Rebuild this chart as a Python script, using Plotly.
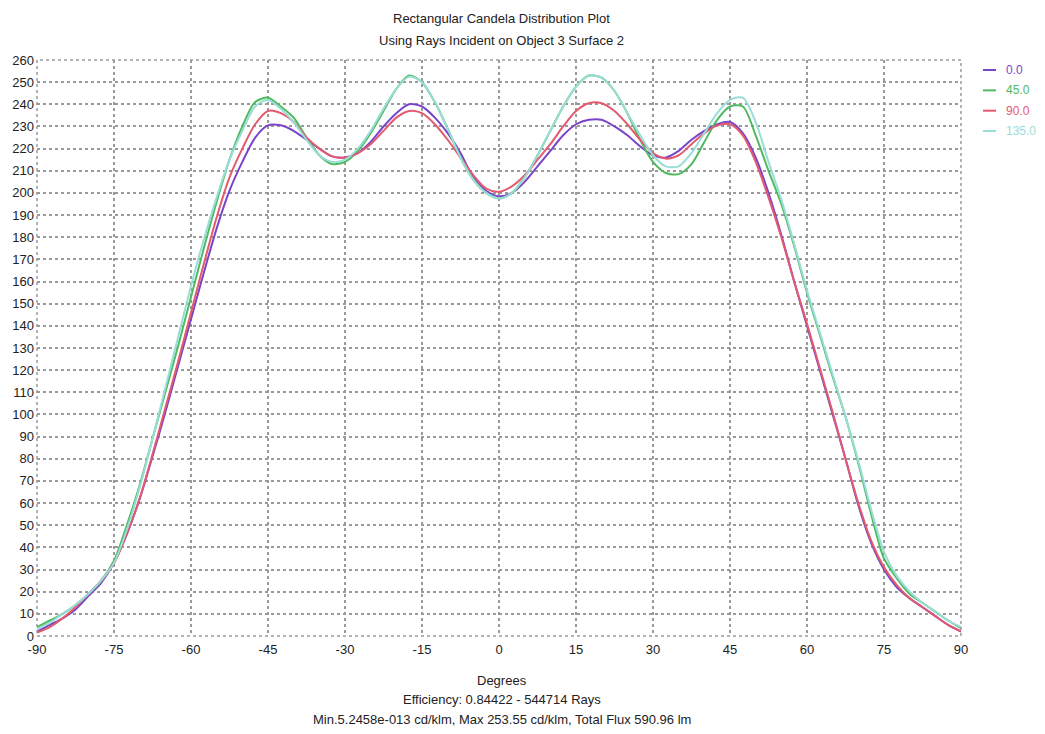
import plotly.graph_objects as go

degrees = [-90, -87.5, -85, -82.5, -80, -77.5, -75, -72.5, -70, -67.5, -65, -62.5,
           -60, -57.5, -55, -52.5, -50, -47.5, -45, -42.5, -40, -37.5, -35, -32.5,
           -30, -27.5, -25, -22.5, -20, -17.5, -15, -12.5, -10, -7.5, -5, -2.5,
           0, 2.5, 5, 7.5, 10, 12.5, 15, 17.5, 20, 22.5, 25, 27.5,
           30, 32.5, 35, 37.5, 40, 42.5, 45, 47.5, 50, 52.5, 55, 57.5,
           60, 62.5, 65, 67.5, 70, 72.5, 75, 77.5, 80, 82.5, 85, 87.5, 90]

cd_0 = [2, 5, 8, 12, 18, 24, 33, 46, 62, 81, 101, 122,
        143, 164, 184, 201, 214, 225, 230.5, 230.5, 228, 224, 220, 216.5,
        216, 218, 223, 230, 236, 240, 239, 234, 227, 218, 207, 201,
        198.5, 200, 205, 212, 219, 226, 231, 233, 233, 230, 226, 221,
        217, 216, 219, 224, 228, 231, 232, 227, 216, 200, 181, 160,
        140, 120, 100, 80, 59, 42, 30, 22, 17, 13, 9, 5, 2]

cd_45 = [4, 7, 10, 14, 19, 25, 34, 50, 68, 89, 110, 131,
         153, 175, 196, 215, 230, 241, 243, 239, 234, 225, 217, 213,
         214, 219, 227, 237, 247, 253, 250, 241, 229, 216, 206, 200,
         197.5, 200, 207, 217, 228, 239, 248, 253, 252, 246, 236, 224,
         214, 209, 208.5, 213, 223, 233, 239, 239, 226, 210, 195, 176,
         155, 136, 117, 99, 78, 55, 35, 26, 19, 15, 11, 7, 3.5]

cd_90 = [1.5, 4, 8, 13, 19, 25, 33, 46, 62, 82, 103, 124,
         146, 168, 189, 207, 220, 231, 237, 236, 232, 225, 220, 216.5,
         216, 218, 222, 228, 234, 237, 236, 231, 224, 216, 208, 202,
         200.5, 203, 208, 215, 222, 230, 237, 240.5, 240.5, 237, 231, 224,
         218, 215.5, 217, 222, 227, 230.5, 231, 226, 214, 198, 180, 160,
         141, 121, 101, 80, 60, 43, 31, 23, 17, 13, 9, 5, 2]

cd_135 = [3, 6, 10, 14, 19, 25, 33, 48, 67, 89, 112, 135,
          158, 179, 198, 215, 228, 239, 242, 238, 232, 224, 217, 214,
          215, 220, 228, 238, 247, 252.5, 250, 241, 229, 216, 206, 200,
          197.5, 200, 207, 217, 228, 239, 248, 253, 252, 246, 236, 226,
          217, 212, 212, 218, 227, 236, 242, 243, 232, 214, 197, 177,
          156, 137, 118, 99, 79, 57, 38, 27, 20, 15, 11, 7, 4]

series_names = ["0.0", "45.0", "90.0", "135.0"]
series_values = [cd_0, cd_45, cd_90, cd_135]
series_colors = ["#7a44c8", "#4fba5f", "#e35a6e", "#98ddd8"]

x_ticks = [-90, -75, -60, -45, -30, -15, 0, 15, 30, 45, 60, 75, 90]
y_ticks = list(range(0, 261, 10))

title_lines = ["Rectangular Candela Distribution Plot", "Using Rays Incident on Object 3 Surface 2"]
footer_lines = ["Degrees", "Efficiency: 0.84422 - 544714 Rays",
                "Min.5.2458e-013 cd/klm, Max 253.55 cd/klm, Total Flux 590.96 lm"]

FONT = "Liberation Sans Narrow, Arial Narrow, Liberation Sans, Arial, sans-serif"
TXT = "#222222"

fig = go.Figure()
for name, vals, col in zip(series_names, series_values, series_colors):
    fig.add_trace(go.Scatter(
        x=degrees, y=vals, mode="lines", name=name,
        line=dict(color=col, width=2, shape="spline", smoothing=0.8),
    ))

annotations = []
shapes = []
# titles
for txt, yy in zip(title_lines, [1.0729, 1.0347]):
    annotations.append(dict(text=txt, x=0.503, y=yy, xref="paper", yref="paper",
                            xanchor="center", yanchor="middle", showarrow=False,
                            font=dict(size=13, color=TXT)))
# footer
for txt, yy in zip(footer_lines, [-0.0764, -0.1111, -0.1458]):
    annotations.append(dict(text=txt, x=0.503, y=yy, xref="paper", yref="paper",
                            xanchor="center", yanchor="middle", showarrow=False,
                            font=dict(size=13, color=TXT)))
# custom legend (short line + coloured label)
for i, (name, col) in enumerate(zip(series_names, series_colors)):
    yy = 0.9826 - i * 0.0353
    shapes.append(dict(type="line", xref="paper", yref="paper", x0=1.0238, x1=1.0379,
                       y0=yy, y1=yy, line=dict(color=col, width=2)))
    annotations.append(dict(text=name, x=1.0470, y=yy, xref="paper", yref="paper",
                            xanchor="left", yanchor="middle", showarrow=False,
                            font=dict(size=12, color=col)))
# dotted plot border
shapes.append(dict(type="rect", xref="paper", yref="paper", x0=0, x1=1, y0=0, y1=1,
                   line=dict(color="#9a9a9a", width=1.5, dash="dot")))

fig.update_layout(
    width=1045, height=734,
    margin=dict(l=29, r=92, t=52, b=106, autoexpand=False),
    paper_bgcolor="white", plot_bgcolor="white",
    font=dict(family=FONT, size=13, color=TXT),
    showlegend=False,
    annotations=annotations,
    shapes=shapes,
)

fig.update_xaxes(range=[-90, 90], tickvals=x_ticks, ticktext=[str(t) for t in x_ticks],
                 showgrid=True, gridcolor="#9a9a9a", griddash="dot", gridwidth=1.5,
                 zeroline=False, showline=False, ticks="", tickfont=dict(size=13, color=TXT),
                 ticklabelstandoff=4, automargin=False)
fig.update_yaxes(range=[0, 260], tickvals=y_ticks, ticktext=[str(t) for t in y_ticks],
                 showgrid=True, gridcolor="#9a9a9a", griddash="dot", gridwidth=1.5,
                 zeroline=False, showline=False, ticks="", tickfont=dict(size=13, color=TXT),
                 ticklabelstandoff=2, automargin=False)

fig.write_html("out.html")
